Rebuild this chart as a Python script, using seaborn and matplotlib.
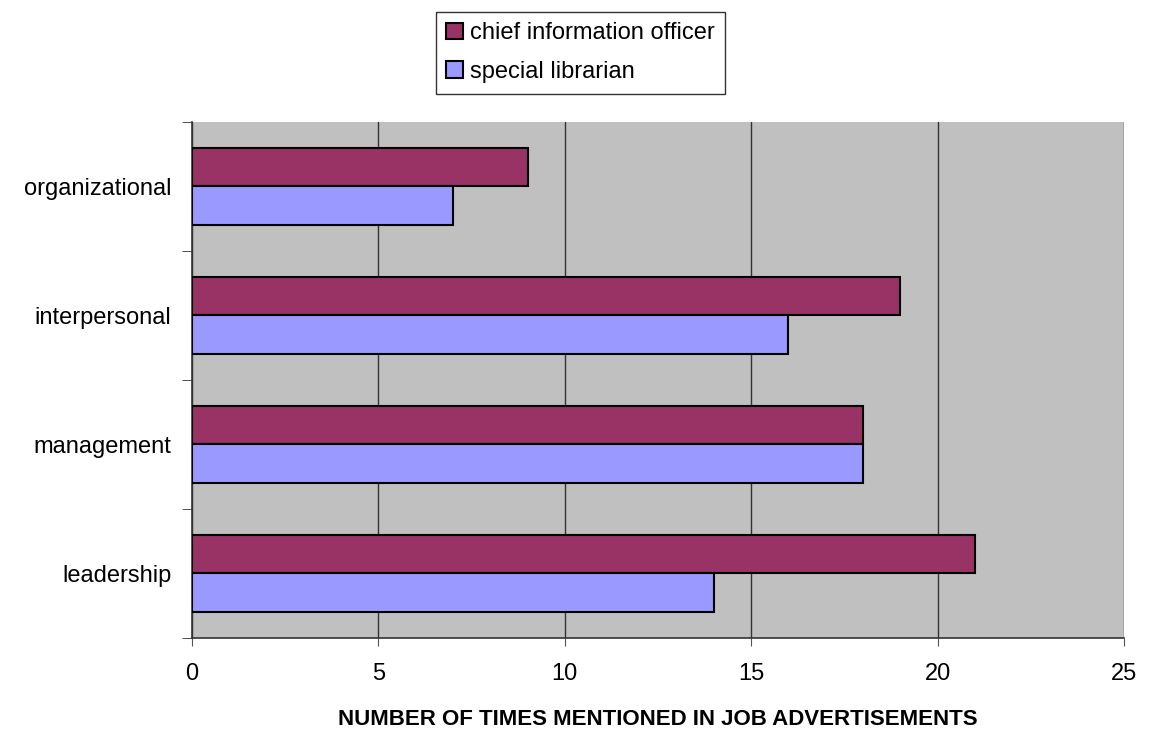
import pandas as pd
import matplotlib.pyplot as plt
import seaborn as sns

skills = ['organizational', 'interpersonal', 'management', 'leadership']
cio_counts = [9, 19, 18, 21]
librarian_counts = [7, 16, 18, 14]
roles = ['chief information officer', 'special librarian']

df = pd.DataFrame({
    'skill': skills * 2,
    'count': cio_counts + librarian_counts,
    'role': [roles[0]] * len(skills) + [roles[1]] * len(skills),
})

sns.set_style('white')
plt.rcParams['font.family'] = ['Liberation Sans', 'DejaVu Sans']
plt.rcParams['text.color'] = 'black'
plt.rcParams['axes.labelcolor'] = 'black'
plt.rcParams['xtick.labelcolor'] = 'black'
plt.rcParams['ytick.labelcolor'] = 'black'

fig = plt.figure(figsize=(11.52, 7.34), dpi=100)
ax = fig.add_axes([0.1667, 0.1308, 0.8090, 0.7030])
ax.set_facecolor('#c0c0c0')

sns.barplot(data=df, x='count', y='skill', hue='role', hue_order=roles,
            order=skills, palette={roles[0]: '#993366', roles[1]: '#9999ff'},
            edgecolor='black', linewidth=1.5, width=0.59, orient='h',
            saturation=1, ax=ax, zorder=3)

ax.set_xlim(0, 25)
ax.set_ylim(3.5, -0.5)
ax.set_xticks(range(0, 26, 5))
ax.grid(axis='x', color='#333333', linewidth=1, zorder=0)
ax.set_axisbelow(True)

for side in ['top', 'right']:
    ax.spines[side].set_visible(False)
for side in ['left', 'bottom']:
    ax.spines[side].set_color('#333333')
    ax.spines[side].set_linewidth(1.2)

# category boundaries get the tick marks, labels sit in between
ax.set_yticks([i - 0.5 for i in range(len(skills) + 1)], minor=True)
ax.tick_params(axis='y', which='major', length=0, labelsize=17, pad=15)
ax.tick_params(axis='y', which='minor', length=7, left=True, color='#333333')
ax.tick_params(axis='x', length=6, bottom=True, color='#555555', labelsize=17, pad=12)

ax.set_ylabel('')
ax.set_xlabel('NUMBER OF TIMES MENTIONED IN JOB ADVERTISEMENTS',
              fontsize=16, fontweight='bold', labelpad=17)

leg = ax.legend(loc='upper center', bbox_to_anchor=(0.504, 0.984),
                bbox_transform=fig.transFigure, fontsize=17, frameon=True,
                fancybox=False, edgecolor='black', handlelength=0.7,
                handleheight=0.7, handletextpad=0.3, borderpad=0.45,
                labelspacing=0.7, borderaxespad=0)
leg.get_frame().set_linewidth(1)

fig.savefig('out.png', dpi=100)
